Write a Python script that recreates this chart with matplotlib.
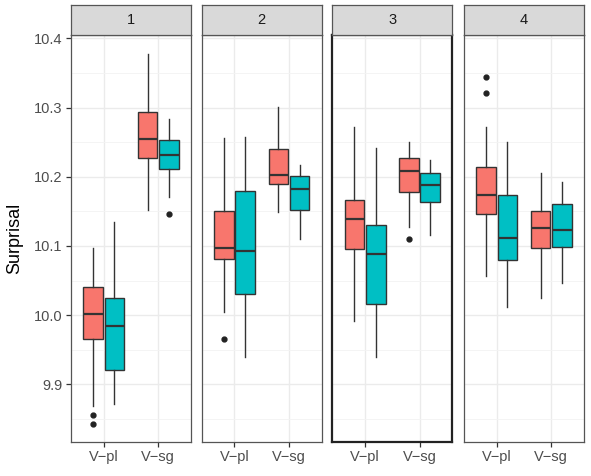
import matplotlib
matplotlib.use("Agg")
import matplotlib.pyplot as plt
from matplotlib.ticker import MultipleLocator

plt.rcParams['font.family'] = ['Liberation Sans', 'DejaVu Sans']

facets = ["1", "2", "3", "4"]
categories = ["V\u2212pl", "V\u2212sg"]
groups = ["red", "teal"]
fill_colors = {"red": "#F8766D", "teal": "#00BFC4"}

# stats per facet -> category -> group: (whislo, q1, med, q3, whishi, fliers)
p1_pl_red = (9.868, 9.966, 10.002, 10.040, 10.097, [9.856, 9.842])
p1_pl_teal = (9.871, 9.920, 9.984, 10.025, 10.134, [])
p1_sg_red = (10.152, 10.227, 10.254, 10.294, 10.377, [])
p1_sg_teal = (10.171, 10.211, 10.231, 10.253, 10.283, [10.146])

p2_pl_red = (10.004, 10.081, 10.097, 10.151, 10.256, [9.965])
p2_pl_teal = (9.939, 10.030, 10.093, 10.179, 10.258, [])
p2_sg_red = (10.149, 10.190, 10.203, 10.240, 10.301, [])
p2_sg_teal = (10.110, 10.152, 10.183, 10.201, 10.217, [])

p3_pl_red = (9.992, 10.095, 10.139, 10.166, 10.272, [])
p3_pl_teal = (9.939, 10.016, 10.088, 10.131, 10.241, [])
p3_sg_red = (10.128, 10.178, 10.209, 10.227, 10.251, [10.110])
p3_sg_teal = (10.116, 10.163, 10.188, 10.205, 10.224, [])

p4_pl_red = (10.056, 10.146, 10.173, 10.214, 10.272, [10.344, 10.321])
p4_pl_teal = (10.012, 10.079, 10.112, 10.174, 10.251, [])
p4_sg_red = (10.025, 10.097, 10.126, 10.150, 10.206, [])
p4_sg_teal = (10.047, 10.099, 10.123, 10.160, 10.192, [])

data = {
    "1": [[p1_pl_red, p1_pl_teal], [p1_sg_red, p1_sg_teal]],
    "2": [[p2_pl_red, p2_pl_teal], [p2_sg_red, p2_sg_teal]],
    "3": [[p3_pl_red, p3_pl_teal], [p3_sg_red, p3_sg_teal]],
    "4": [[p4_pl_red, p4_pl_teal], [p4_sg_red, p4_sg_teal]],
}

W, H = 591, 476
fig = plt.figure(figsize=(W / 100, H / 100), dpi=100)

lefts = [71, 201.7, 332.4, 464]
pw = 120
ptop, pbot = 35, 441.7
stop = 4.7

offset = 0.195
bwidth = 0.36
edge = "#333333"

for fi, f in enumerate(facets):
    ax = fig.add_axes([lefts[fi] / W, (H - pbot) / H, pw / W, (pbot - ptop) / H])
    for ci, cat in enumerate(categories):
        for gi, g in enumerate(groups):
            wl, q1, med, q3, wh, fl = data[f][ci][gi]
            pos = ci + 1 + (-offset if gi == 0 else offset)
            st = [dict(whislo=wl, q1=q1, med=med, q3=q3, whishi=wh, fliers=fl)]
            ax.bxp(st, positions=[pos], widths=bwidth, patch_artist=True,
                   showcaps=False,
                   boxprops=dict(facecolor=fill_colors[g], edgecolor=edge, linewidth=1.0),
                   medianprops=dict(color=edge, linewidth=1.6),
                   whiskerprops=dict(color=edge, linewidth=1.0),
                   flierprops=dict(marker='o', markerfacecolor='#222222',
                                   markeredgecolor='#222222', markersize=3.5),
                   zorder=3)
    ax.set_xlim(0.4, 2.6)
    ax.set_ylim(9.817, 10.405)
    ax.set_xticks([1, 2])
    ax.set_xticklabels(categories)
    ax.yaxis.set_major_locator(MultipleLocator(0.1))
    ax.yaxis.set_minor_locator(MultipleLocator(0.05))
    ax.grid(True, which='major', color='#EBEBEB', linewidth=1.0, zorder=0)
    ax.grid(True, which='minor', axis='y', color='#F3F3F3', linewidth=0.6, zorder=0)
    ax.set_axisbelow(True)
    ax.tick_params(axis='both', which='major', length=3.5, width=0.9, color='#333333',
                   labelcolor='#4D4D4D', labelsize=10.5, pad=2.5)
    ax.tick_params(axis='y', which='minor', length=0)
    if fi == 0:
        ax.set_yticklabels([f"{v:.1f}" for v in ax.get_yticks()])
        ax.set_ylabel("Surprisal", fontsize=13, color='black', labelpad=8)
    else:
        ax.tick_params(axis='y', which='both', left=False, labelleft=False)
    for sp in ax.spines.values():
        if f == "3":
            sp.set_color('#222222')
            sp.set_linewidth(1.6)
        else:
            sp.set_color('#555555')
            sp.set_linewidth(0.9)

    sax = fig.add_axes([lefts[fi] / W, (H - ptop) / H, pw / W, (ptop - stop) / H])
    sax.set_facecolor('#D9D9D9')
    sax.set_xticks([])
    sax.set_yticks([])
    for sp in sax.spines.values():
        sp.set_color('#555555')
        sp.set_linewidth(0.9)
    sax.text(0.5, 0.5, f, ha='center', va='center', fontsize=10.5, color='#1A1A1A',
             transform=sax.transAxes)

ax0 = fig.axes[0]
ax0.set_yticks([9.9, 10.0, 10.1, 10.2, 10.3, 10.4])
ax0.set_yticklabels(["9.9", "10.0", "10.1", "10.2", "10.3", "10.4"])

fig.savefig("out.png", dpi=100)
